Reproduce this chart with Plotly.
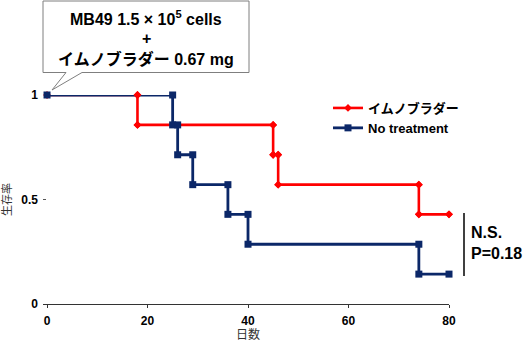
import plotly.graph_objects as go

# ---- data ----
red_name = "イムノブラダー"
red_event_days = [18, 45, 46, 74]
red_survival = [1.0, 0.857, 0.714, 0.571, 0.429]   # start, then after each event
red_end_day = 80

blue_name = "No treatment"
blue_event_days = [25, 26, 29, 36, 40, 74]
blue_survival = [1.0, 0.857, 0.714, 0.571, 0.429, 0.286, 0.143]
blue_end_day = 80

x_ticks = [0, 20, 40, 60, 80]
y_ticks = [0, 0.5, 1]
y_tick_labels = ["0", "0.5", "1"]


def km_corners(events, surv, end):
    xs, ys = [0], [surv[0]]
    for i, t in enumerate(events):
        xs += [t, t]
        ys += [surv[i], surv[i + 1]]
    xs.append(end)
    ys.append(surv[-1])
    return xs, ys


FONT = "Liberation Sans, Arial, Noto Sans CJK JP, sans-serif"
RED = "#ff0000"
NAVY = "#0b2768"

rx, ry = km_corners(red_event_days, red_survival, red_end_day)
bx, by = km_corners(blue_event_days, blue_survival, blue_end_day)

fig = go.Figure()
fig.add_trace(go.Scatter(x=rx, y=ry, mode="lines+markers", name=red_name,
                         line=dict(color=RED, width=2.6),
                         marker=dict(symbol="diamond", size=6, color=RED),
                         cliponaxis=False))
fig.add_trace(go.Scatter(x=bx, y=by, mode="lines+markers", name=blue_name,
                         line=dict(color=NAVY, width=2.8),
                         marker=dict(symbol="square", size=7, color=NAVY),
                         cliponaxis=False))
# red markers again on top (no legend)
fig.add_trace(go.Scatter(x=rx[1:], y=ry[1:], mode="markers", showlegend=False,
                         marker=dict(symbol="diamond", size=6, color=RED),
                         hoverinfo="skip", cliponaxis=False))

# plot area in pixels: left 43, right 449, top 95, bottom 304
L, R, T, B = 43, 449, 95, 304
W, H = R - L, B - T


def px(x):
    return (x - L) / W


def py(y):
    return (B - y) / H


# callout box
path = (f"M {px(43)},{py(1)} L {px(249)},{py(1)} L {px(249)},{py(72.5)} "
        f"L {px(82)},{py(72.5)} L {px(52)},{py(90)} L {px(66)},{py(72.5)} "
        f"L {px(43)},{py(72.5)} Z")
fig.add_shape(type="path", path=path, xref="paper", yref="paper",
              line=dict(color="#7f7f7f", width=1), fillcolor="white")

box_lines = ["<b>MB49 1.5 × 10<sup>5</sup> cells</b>", "<b>+</b>",
             "<b>イムノブラダー 0.67 mg</b>"]
for txt, yy in zip(box_lines, [18, 38, 59]):
    fig.add_annotation(x=px(146), y=py(yy), xref="paper", yref="paper",
                       text=txt, showarrow=False, xanchor="center", yanchor="middle",
                       font=dict(family=FONT, size=16, color="black"))

# N.S. bracket
fig.add_shape(type="line", xref="paper", yref="paper",
              x0=px(464), x1=px(464), y0=py(213), y1=py(276),
              line=dict(color="black", width=1.5))
fig.add_annotation(x=px(469), y=py(243), xref="paper", yref="paper",
                   text="<b>N.S.</b><br><b>P=0.18</b>", showarrow=False,
                   xanchor="left", yanchor="middle", align="left",
                   font=dict(family=FONT, size=16, color="black"))

# x-axis title
fig.add_annotation(x=px(248), y=py(325), xref="paper", yref="paper",
                   text="日数", showarrow=False, xanchor="center", yanchor="top",
                   font=dict(family=FONT, size=12, color="#333"))

fig.update_layout(
    width=530, height=341,
    margin=dict(l=L, r=530 - R, t=T, b=341 - B),
    paper_bgcolor="white", plot_bgcolor="white",
    font=dict(family=FONT, size=12, color="black"),
    showlegend=True,
    legend=dict(x=px(328), y=py(93), xanchor="left", yanchor="top",
                bgcolor="rgba(0,0,0,0)", font=dict(family=FONT, size=13, color="black", weight="bold"),
                tracegroupgap=0),
    xaxis=dict(range=[-0.8, 80], tickvals=x_ticks, showgrid=False, zeroline=False,
               showline=True, linecolor="#333", linewidth=1,
               ticks="outside", ticklen=3, tickcolor="#333",
               ticklabelstandoff=3,
               tickfont=dict(family=FONT, size=12, weight="bold"),
               automargin=False),
    yaxis=dict(range=[0, 1], tickvals=y_ticks, ticktext=y_tick_labels, showgrid=False,
               zeroline=False, showline=False, ticks="inside", ticklen=3, tickcolor="#555",
               ticklabelstandoff=4,
               tickfont=dict(family=FONT, size=12, weight="bold"),
               title=dict(text="生存率", font=dict(family=FONT, size=11, color="#333"), standoff=8),
               automargin=False),
)

fig.write_html("out.html")
